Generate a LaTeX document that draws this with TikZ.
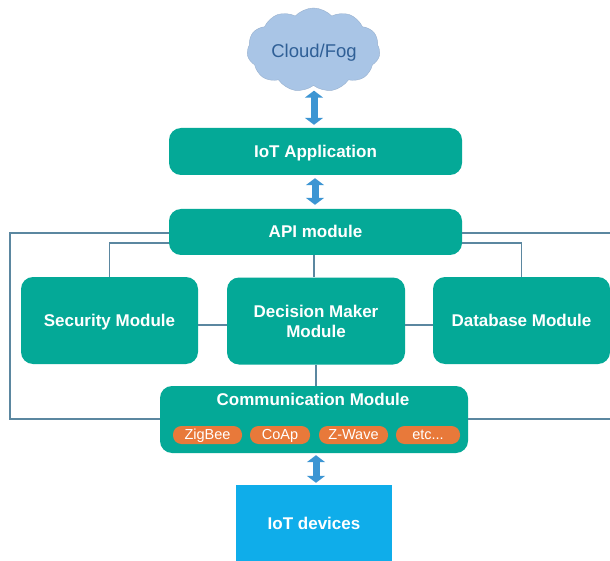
\documentclass[tikz,border=0pt]{standalone}
\usepackage{fontspec}
\setmainfont{Liberation Sans}
\usetikzlibrary{shapes.symbols,arrows.meta}
\definecolor{modgreen}{HTML}{04A997}
\definecolor{linkblue}{HTML}{5B87A0}
\definecolor{arrowblue}{HTML}{3C95D3}
\definecolor{pillorange}{HTML}{E8793A}
\definecolor{cloudblue}{HTML}{A9C5E6}
\definecolor{cloudtext}{HTML}{2F5F96}
\definecolor{devblue}{HTML}{0FADEA}
\tikzset{
  module/.style={draw=none,fill=modgreen,rounded corners=12pt,inner sep=0pt,align=center,
    text=white,font=\fontsize{17}{20}\selectfont\bfseries},
  oneline/.style={text height=12pt,text depth=0pt},
  pill/.style={fill=pillorange,rounded corners=8.5pt,inner sep=0pt,minimum height=18pt,
    text height=10.5pt,text depth=2pt,text=white,font=\fontsize{14.5}{15}\selectfont},
  link/.style={draw=linkblue,line width=1.1pt},
  updown/.style={draw=arrowblue,line width=7pt,{Triangle[length=7pt,width=18pt]}-{Triangle[length=7pt,width=18pt]}},
}
\begin{document}
\begin{tikzpicture}[x=1pt,y=-1pt]
\useasboundingbox (0,0) rectangle (610,561);
\fill [white] (0,0) rectangle (610,561);
\node [cloud,cloud puffs=11,cloud puff arc=95,aspect=1.55,fill=cloudblue,draw=cloudblue!90!black,inner sep=0pt,
  minimum width=133pt,minimum height=84pt] (cloudfog) at (313.5,50) {};
\node [text=cloudtext,font=\fontsize{18.5}{20}\selectfont,inner sep=0pt] (cloudlabel) at (314,53) {Cloud/Fog};
\node [module,oneline,minimum width=293pt,minimum height=47pt] (app) at (315.5,151.5) {IoT Application};
\node [module,oneline,minimum width=293pt,minimum height=46pt] (api) at (315.5,232) {API module};
\node [module,oneline,minimum width=177pt,minimum height=87pt] (security) at (109.5,320.5) {Security Module};
\node [module,minimum width=178pt,minimum height=87pt] (decision) at (316,321) {Decision Maker\\Module};
\node [module,oneline,minimum width=177pt,minimum height=87pt] (database) at (521.5,320.5) {Database Module};
\node [module,minimum width=308pt,minimum height=67pt] (comm) at (314,419.5) {};
\node [text=white,font=\fontsize{17}{20}\selectfont\bfseries,inner sep=0pt] (commtitle) at (313,399) {Communication Module};
\node [pill,minimum width=69pt] (zigbee) at (207.5,435) {ZigBee};
\node [pill,minimum width=60pt] (coap) at (280,435) {CoAp};
\node [pill,minimum width=69pt] (zwave) at (353.5,435) {Z-Wave};
\node [pill,minimum width=64pt] (etc) at (428,435) {etc...};
\node [fill=devblue,oneline,minimum width=156pt,minimum height=76pt,inner sep=0pt,text=white,
  font=\fontsize{17}{20}\selectfont\bfseries] (devices) at (314,523) {IoT devices};
\coordinate (apiwest) at (169,233);
\coordinate (farwest) at (10,233);
\coordinate (commwest) at (160,419);
\coordinate (farsw) at (10,419);
\coordinate (apieast) at (462,233);
\coordinate (fareast) at (610,233);
\coordinate (commeast) at (468,419);
\coordinate (farse) at (610,419);
\coordinate (secwest) at (169,243);
\coordinate (dbeast) at (462,243);
\draw [link] (apiwest) -- (farwest) -- (farsw) -- (commwest);
\draw [link] (apieast) -- (fareast);
\draw [link] (commeast) -- (farse);
\draw [link] (secwest) -| (security.north);
\draw [link] (dbeast) -| (database.north);
\draw [link] (api.south -| 314,0) -- (decision.north -| 314,0);
\draw [link] (decision.south) -- (comm.north -| decision.south);
\draw [link] (security.east |- 0,325) -- (decision.west |- 0,325);
\draw [link] (decision.east |- 0,325) -- (database.west |- 0,325);
\draw [updown,shorten <=5pt,shorten >=3pt] (cloudfog.south -| 314,0) -- (app.north -| 314,0);
\draw [updown,shorten <=3pt,shorten >=4pt] (app.south -| 315,0) -- (api.north -| 315,0);
\draw [updown,shorten <=2pt,shorten >=2pt] (comm.south -| 316,0) -- (devices.north -| 316,0);
\end{tikzpicture}
\end{document}
